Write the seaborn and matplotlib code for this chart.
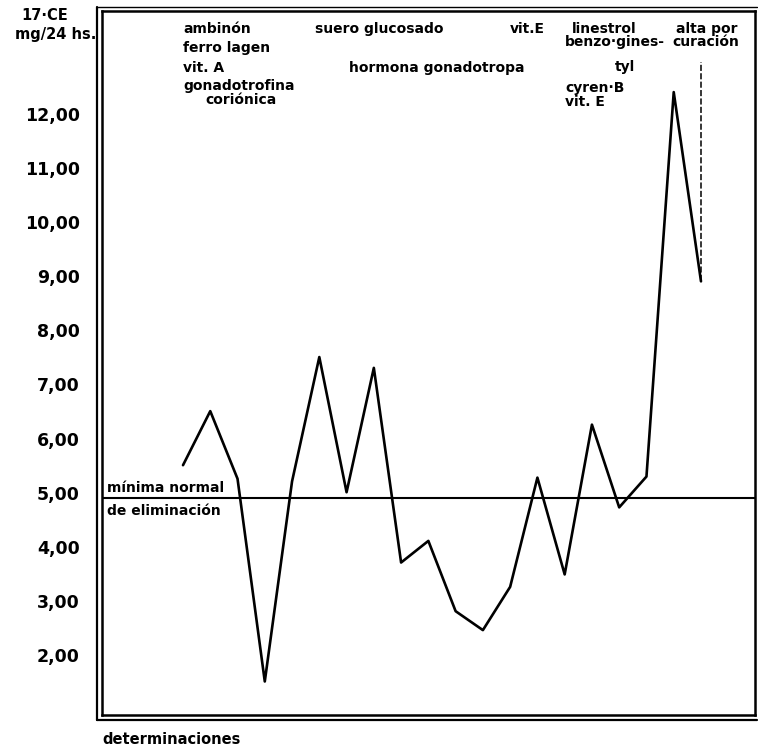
import numpy as np
import pandas as pd
import matplotlib
matplotlib.use("Agg")
import matplotlib.pyplot as plt
from matplotlib.lines import Line2D
from matplotlib.transforms import ScaledTranslation
import seaborn as sns

# 17-CE excretion, one value per determination
determinacion = list(range(1, 21))
valor_17ce = [5.60, 6.60, 5.35, 1.60, 5.30, 7.60, 5.10, 7.40, 3.80, 4.20,
              2.90, 2.55, 3.35, 5.37, 3.58, 6.35, 4.82, 5.39, 12.50, 9.00]
minima_normal = 5.0
alta_tope = 13.05

y_ticks = list(range(2, 14))
y_labels = ["%d,00" % v if v <= 12 else "" for v in y_ticks]

frame = pd.DataFrame({"det": determinacion, "val": valor_17ce})

sns.set_style("white")
plt.rcParams["font.family"] = ["DejaVu Sans"]
plt.rcParams["font.weight"] = "bold"
plt.rcParams["text.color"] = "black"
plt.rcParams["ytick.color"] = "black"
plt.rcParams["xtick.color"] = "black"

fig = plt.figure(figsize=(7.58, 7.48), dpi=100)
ax = fig.add_axes([0.1346, 0.0441, 0.8614, 0.9412])

sns.lineplot(data=frame, x="det", y="val", ax=ax, color="black", lw=1.9)
ax.axhline(minima_normal, color="black", lw=1.5)
ax.plot([determinacion[-1]] * 2, [valor_17ce[-1], alta_tope], color="black",
        lw=1.1, ls=(0, (4, 1.5)))

ax.set_xlim(-1.97, 21.98)
ax.set_ylim(0.98, 14.0)
ax.set_xticks(determinacion)
ax.set_xticklabels([])
ax.set_yticks(y_ticks)
ax.set_yticklabels(y_labels, fontsize=12.5, fontweight="bold")
ax.tick_params(axis="both", direction="in", length=4, width=1.5, color="black")
ax.tick_params(axis="y", pad=16)
for lab in ax.get_yticklabels():
    lab.set_transform(lab.get_transform() + ScaledTranslation(0, 5 / 100, fig.dpi_scale_trans))
ax.set_xlabel(None)
ax.set_ylabel(None)
for s in ax.spines.values():
    s.set_color("black")
    s.set_linewidth(1.8)

# second (outer) line of the hand-drawn frame
fig.add_artist(Line2D([97 / 758, 97 / 758], [1 - 720 / 748, 1 - 7 / 748], color="black", lw=1.6))
fig.add_artist(Line2D([97 / 758, 757 / 758], [1 - 720 / 748, 1 - 720 / 748], color="black", lw=1.6))
fig.add_artist(Line2D([97 / 758, 757 / 758], [1 - 7 / 748, 1 - 7 / 748], color="black", lw=1.0))

fs = 10
notas = [
    ("ambinón", 1.0, 13.66), ("ferro lagen", 1.0, 13.31), ("vit. A", 1.0, 12.94),
    ("gonadotrofina", 1.0, 12.61), ("coriónica", 1.81, 12.36),
    ("suero glucosado", 5.84, 13.66), ("hormona gonadotropa", 7.09, 12.94),
    ("vit.E", 13.0, 13.66), ("linestrol", 15.27, 13.67), ("alta por", 19.08, 13.67),
    ("benzo·gines-", 15.01, 13.42), ("curación", 18.94, 13.42), ("tyl", 16.85, 12.96),
    ("cyren·B", 15.01, 12.57), ("vit. E", 15.01, 12.32),
    ("mínima normal", -1.79, 5.18), ("de eliminación", -1.79, 4.75),
]
for txt, x, y in notas:
    ax.text(x, y, txt, ha="left", va="center", fontsize=fs, fontweight="bold")

fig.text(45 / 758, 1 - 15 / 748, "17·CE", ha="center", va="center", fontsize=10.5, fontweight="bold")
fig.text(96 / 758, 1 - 34 / 748, "mg/24 hs.", ha="right", va="center", fontsize=10.5, fontweight="bold")
fig.text(102 / 758, 1 - 740 / 748, "determinaciones", ha="left", va="center", fontsize=10.5, fontweight="bold")

fig.savefig("out.png", dpi=100)
